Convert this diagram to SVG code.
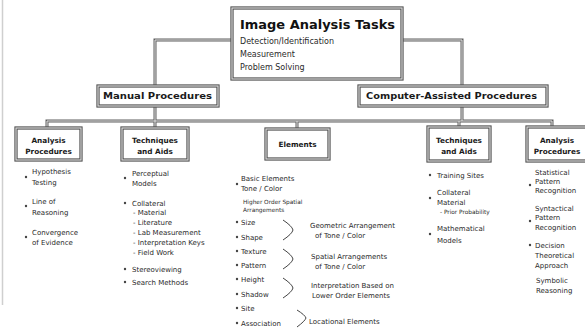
<svg xmlns="http://www.w3.org/2000/svg" width="585" height="328" viewBox="0 0 585 328">
<style>
.bg{fill:#fff}
.bo{fill:#fff;stroke:#4a4a4a;stroke-width:3.2}
.bi{fill:none;stroke:#dadada;stroke-width:1.2}
.co{fill:none;stroke:#5e5e5e;stroke-width:3}
.ci{fill:none;stroke:#e4e4e4;stroke-width:1}
text{font-family:"DejaVu Sans","Liberation Sans",sans-serif;fill:#2a2a2a}
.t1{font-size:12.5px;font-weight:bold;fill:#111}
.t2{font-size:8px}
.h1{font-size:8.6px;font-weight:bold;fill:#1a1a1a}
.h2{font-size:7.3px;font-weight:bold;fill:#1a1a1a;text-anchor:middle}
.it{font-size:7px}
.sm{font-size:5.8px}
.bu{fill:#444}
.br{fill:none;stroke:#444;stroke-width:1}
</style>
<rect class="bg" x="0" y="0" width="585" height="328"/>
<line x1="2.5" y1="0" x2="2.5" y2="305" stroke="#cfcfcf" stroke-width="1.5"/>
<g id="connectors">
  <path class="co" d="M232,40 H155 V86 M402,40 H462 V86 M155,106 V121 M462,106 V121 M47,128 V121 H552 V127 M297,121 V129 M155,121 V128 M459,121 V127"/>
  <path class="ci" d="M232,40 H155 V86 M402,40 H462 V86 M155,106 V121 M462,106 V121 M47,128 V121 H552 V127 M297,121 V129 M155,121 V128 M459,121 V127"/>
</g>
<g id="tasks">
  <rect class="bo" x="232" y="8" width="170" height="71"/>
  <rect class="bi" x="232" y="8" width="170" height="71"/>
  <text class="t1" x="240" y="29" textLength="155" lengthAdjust="spacingAndGlyphs">Image Analysis Tasks</text>
  <text class="t2" x="240" y="44">Detection/Identification</text>
  <text class="t2" x="240" y="57">Measurement</text>
  <text class="t2" x="240" y="70">Problem Solving</text>
</g>
<g id="manual">
  <rect class="bo" x="98" y="86" width="120" height="20"/>
  <rect class="bi" x="98" y="86" width="120" height="20"/>
  <text class="h1" x="103" y="99" textLength="109" lengthAdjust="spacingAndGlyphs">Manual Procedures</text>
</g>
<g id="computer">
  <rect class="bo" x="359" y="86" width="188" height="20"/>
  <rect class="bi" x="359" y="86" width="188" height="20"/>
  <text class="h1" x="366" y="99" textLength="171" lengthAdjust="spacingAndGlyphs">Computer-Assisted Procedures</text>
</g>
<g id="analysis-manual">
  <rect class="bo" x="16" y="128" width="65" height="32"/>
  <rect class="bi" x="16" y="128" width="65" height="32"/>
  <text class="h2" x="48.5" y="142.5">Analysis</text>
  <text class="h2" x="48.5" y="153.5">Procedures</text>
  <circle class="bu" cx="26" cy="177" r="1.2"/>
  <text class="it" x="32" y="173.5">Hypothesis</text>
  <text class="it" x="32" y="184.5">Testing</text>
  <circle class="bu" cx="26" cy="206" r="1.2"/>
  <text class="it" x="32" y="203.5">Line of</text>
  <text class="it" x="32" y="214.5">Reasoning</text>
  <circle class="bu" cx="26" cy="237" r="1.2"/>
  <text class="it" x="32" y="234.5">Convergence</text>
  <text class="it" x="32" y="244.5">of Evidence</text>
</g>
<g id="techniques-manual">
  <rect class="bo" x="122" y="128" width="66" height="32"/>
  <rect class="bi" x="122" y="128" width="66" height="32"/>
  <text class="h2" x="155" y="142.5">Techniques</text>
  <text class="h2" x="155" y="153.5">and Aids</text>
  <circle class="bu" cx="125" cy="178" r="1.2"/>
  <text class="it" x="132" y="175.5">Perceptual</text>
  <text class="it" x="132" y="185.5">Models</text>
  <circle class="bu" cx="125" cy="203" r="1.2"/>
  <text class="it" x="132" y="205.5">Collateral</text>
  <text class="it" x="133" y="214.5">- Material</text>
  <text class="it" x="133" y="224.5">- Literature</text>
  <text class="it" x="133" y="234.5">- Lab Measurement</text>
  <text class="it" x="133" y="244.5">- Interpretation Keys</text>
  <text class="it" x="133" y="254.5">- Field Work</text>
  <circle class="bu" cx="125" cy="269" r="1.2"/>
  <text class="it" x="132" y="271.5">Stereoviewing</text>
  <circle class="bu" cx="125" cy="282" r="1.2"/>
  <text class="it" x="132" y="284.5">Search Methods</text>
</g>
<g id="elements">
  <rect class="bo" x="266" y="129" width="63" height="30"/>
  <rect class="bi" x="266" y="129" width="63" height="30"/>
  <text class="h2" x="297.5" y="146.5">Elements</text>
  <circle class="bu" cx="237" cy="184" r="1.2"/>
  <text class="it" x="241" y="180.5">Basic Elements</text>
  <text class="it" x="241" y="190.5">Tone / Color</text>
  <text class="sm" x="243" y="204">Higher Order Spatial</text>
  <text class="sm" x="243" y="212">Arrangements</text>
  <circle class="bu" cx="237" cy="222" r="1.2"/>
  <text class="it" x="241" y="224.5">Size</text>
  <circle class="bu" cx="237" cy="237" r="1.2"/>
  <text class="it" x="241" y="239.5">Shape</text>
  <circle class="bu" cx="237" cy="251" r="1.2"/>
  <text class="it" x="241" y="253.5">Texture</text>
  <circle class="bu" cx="237" cy="265" r="1.2"/>
  <text class="it" x="241" y="267.5">Pattern</text>
  <circle class="bu" cx="237" cy="279" r="1.2"/>
  <text class="it" x="241" y="281.5">Height</text>
  <circle class="bu" cx="237" cy="294" r="1.2"/>
  <text class="it" x="241" y="296.5">Shadow</text>
  <circle class="bu" cx="237" cy="308" r="1.2"/>
  <text class="it" x="241" y="310.5">Site</text>
  <circle class="bu" cx="237" cy="323" r="1.2"/>
  <text class="it" x="241" y="325.5">Association</text>
  <path class="br" d="M283,220 Q292,226 293,230 Q292,234 283,240"/>
  <path class="br" d="M283,249 Q292,255 293,259 Q292,263 283,269"/>
  <path class="br" d="M283,278 Q292,284 293,288 Q292,292 283,298"/>
  <path class="br" d="M297,310 Q305,315 306,318 Q305,321 297,327"/>
  <text class="it" x="310" y="227.5">Geometric Arrangement</text>
  <text class="it" x="315" y="237.5">of Tone / Color</text>
  <text class="it" x="311" y="258.5">Spatial Arrangements</text>
  <text class="it" x="315" y="268.5">of Tone / Color</text>
  <text class="it" x="311" y="287.5">Interpretation Based on</text>
  <text class="it" x="312" y="297.5">Lower Order Elements</text>
  <text class="it" x="309" y="323.5">Locational Elements</text>
</g>
<g id="techniques-computer">
  <rect class="bo" x="428" y="127" width="62" height="34"/>
  <rect class="bi" x="428" y="127" width="62" height="34"/>
  <text class="h2" x="459" y="142.5">Techniques</text>
  <text class="h2" x="459" y="153.5">and Aids</text>
  <circle class="bu" cx="430" cy="175" r="1.2"/>
  <text class="it" x="437" y="177.5">Training Sites</text>
  <circle class="bu" cx="430" cy="198" r="1.2"/>
  <text class="it" x="437" y="194.5">Collateral</text>
  <text class="it" x="437" y="204.5">Material</text>
  <text class="sm" x="440" y="214">- Prior Probability</text>
  <circle class="bu" cx="430" cy="234" r="1.2"/>
  <text class="it" x="437" y="230.5">Mathematical</text>
  <text class="it" x="437" y="242.5">Models</text>
</g>
<g id="analysis-computer">
  <rect class="bo" x="527" y="127" width="66" height="34"/>
  <rect class="bi" x="527" y="127" width="66" height="34"/>
  <text class="h2" x="557" y="142.5">Analysis</text>
  <text class="h2" x="557" y="153.5">Procedures</text>
  <circle class="bu" cx="530" cy="185" r="1.2"/>
  <text class="it" x="535" y="174.5">Statistical</text>
  <text class="it" x="535" y="183.5">Pattern</text>
  <text class="it" x="535" y="192.5">Recognition</text>
  <circle class="bu" cx="530" cy="221" r="1.2"/>
  <text class="it" x="535" y="210.5">Syntactical</text>
  <text class="it" x="535" y="219.5">Pattern</text>
  <text class="it" x="535" y="229.5">Recognition</text>
  <circle class="bu" cx="530" cy="245" r="1.2"/>
  <text class="it" x="535" y="247.5">Decision</text>
  <text class="it" x="535" y="257.5">Theoretical</text>
  <text class="it" x="535" y="267.5">Approach</text>
  <text class="it" x="536" y="282.5">Symbolic</text>
  <text class="it" x="536" y="292.5">Reasoning</text>
</g>
</svg>
